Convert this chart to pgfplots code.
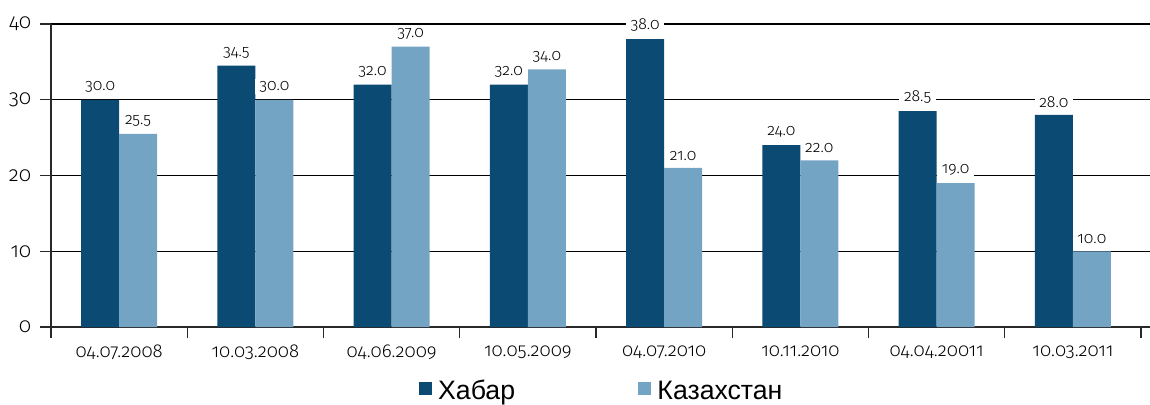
\documentclass[border=0pt]{standalone}
\usepackage{pgfplots}
\pgfplotsset{compat=1.18}
\usepackage{fontspec}
\setmainfont{Fira Sans}[UprightFont=* Light, Numbers=OldStyle]
\newfontfamily\lsans{Liberation Sans}
\definecolor{khabar}{RGB}{10,74,115}
\definecolor{kaz}{RGB}{116,164,196}
\definecolor{axisgray}{RGB}{40,40,40}
\begin{document}
\begin{tikzpicture}
\useasboundingbox (-38.25pt,-57.75pt) rectangle (824.25pt,245.25pt);
\begin{axis}[
  at={(0pt,0pt)}, anchor=south west,
  scale only axis, width=824.25pt, height=227.25pt,
  ybar=0pt, bar width=28.5pt,
  xmin=-0.5, xmax=7.566, ymin=0, ymax=40,
  axis lines=left, axis line style={-, axisgray, line width=1.1pt},
  xtick={-0.5,0.5,...,7.5},
  x tick label as interval,
  xticklabels={04.07.2008,10.03.2008,04.06.2009,10.05.2009,04.07.2010,10.11.2010,04.04.20011,10.03.2011},
  ytick={0,10,20,30,40},
  tick align=outside, major tick length=8.25pt,
  tick style={axisgray, line width=1.1pt},
  ymajorgrids, grid style={black, line width=1.1pt},
  ticklabel style={font=\fontsize{14}{16}\selectfont},
  yticklabel style={font=\fontsize{15.5}{18}\selectfont, xshift=-3pt},
  /pgf/number format/assume math mode=true,
  xticklabel style={yshift=-2pt},
  clip=false,
  nodes near coords,
  nodes near coords style={font=\fontsize{12}{14}\selectfont, fill=white, inner xsep=3.5pt, inner ysep=1.5pt, yshift=4pt,
    /pgf/number format/.cd, fixed, fixed zerofill, precision=1, assume math mode=true},
  legend columns=2,
  legend image code/.code={\fill[#1] (0pt,-3pt) rectangle (9.75pt,6.75pt);},
  legend style={at={(axis description cs:0.503,0)}, anchor=center, yshift=-48pt, draw=none,
    font=\lsans\fontsize{20}{22}\selectfont,
    nodes={inner xsep=4.5pt},
    /tikz/every even column/.append style={column sep=88pt}},
]
\addplot[fill=khabar, draw=none] coordinates {(0,30.0) (1,34.5) (2,32.0) (3,32.0) (4,38.0) (5,24.0) (6,28.5) (7,28.0)};
\addlegendentry{Хабар}
\addplot[fill=kaz, draw=none] coordinates {(0,25.5) (1,30.0) (2,37.0) (3,34.0) (4,21.0) (5,22.0) (6,19.0) (7,10.0)};
\addlegendentry{Казахстан}
\end{axis}
\end{tikzpicture}
\end{document}
